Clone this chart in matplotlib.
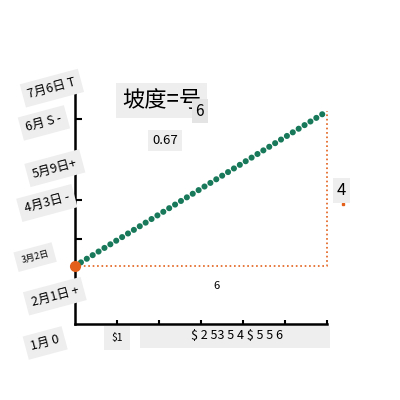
import matplotlib.pyplot as plt
from matplotlib.patches import Rectangle

plt.rcParams['font.family'] = ['Noto Sans CJK SC', 'DejaVu Sans']

# data
run_x = [0, 6]
line_y = [1.5, 5.5]
rise = 4
run = 6
slope_txt = '0.67'
ylabels = ['1月 0', '2月1日 +', '3月2日', '4月3日 -', '5月9日+', '6月 S -', '7月6日 T']
xticks = [1, 2, 3, 4, 5, 6]
xlabel_first = r'\$1'
xlabel_rest = r'\$ 2 53 5 4 \$ 5 5 6'

# label layout (data coords), the labels sit off the ticks in the reference
ylab_x = [-0.71, -0.48, -0.95, -0.67, -0.48, -0.74, -0.55]
ylab_y = [-0.49, 0.72, 1.73, 3.13, 4.03, 5.2, 6.1]

green = '#18785a'
orange = '#e2601a'
box = dict(facecolor='#eeeeee', edgecolor='none', pad=3)

fig = plt.figure(figsize=(4, 4), dpi=100)
ax = fig.add_axes([0.1875, 0.19, 0.63, 0.58])
ax.set_xlim(0, 6)
ax.set_ylim(0, 6)

# slope line as round dots
ax.plot(run_x, line_y, color=green, lw=4.4, linestyle=(0, (0.01, 1.12)),
        solid_capstyle='round', dash_capstyle='round', clip_on=False, zorder=3)

# run / rise guides
ax.plot([run_x[0], run_x[1], run_x[1]], [line_y[0], line_y[0], line_y[1]],
        color=orange, lw=1.2, linestyle=':', clip_on=False, zorder=2)
ax.plot([run_x[0]], [line_y[0]], 'o', color=orange, ms=7, clip_on=False, zorder=4)

ax.text(3.38, 0.98, str(run), ha='center', va='center', fontsize=8)
ax.text(6.35, 3.45, str(rise), ha='center', va='center', fontsize=12, bbox=box)
ax.plot([6.38], [3.1], 's', color=orange, ms=1.5, clip_on=False)

# title like label, the "6" box sits over the end of it
ax.text(1.12, 5.78, '坡度=号', fontsize=16, ha='left', va='center',
        bbox=dict(facecolor='#eeeeee', edgecolor='none', pad=4))
ax.text(2.97, 5.5, '6', fontsize=11, ha='center', va='center',
        bbox=dict(facecolor='#e4e4e4', edgecolor='none', pad=2.5))
ax.text(2.14, 4.75, slope_txt, fontsize=9.5, ha='center', va='center', bbox=box)

# spines
for s in ['top', 'right']:
    ax.spines[s].set_visible(False)
ax.spines['left'].set_linewidth(1.8)
ax.spines['bottom'].set_linewidth(1.8)

# x ticks
ax.set_xticks(xticks)
ax.set_xticklabels([])
ax.tick_params(axis='x', direction='in', length=3, width=1.5)
ax.text(1, -0.36, xlabel_first, fontsize=7.5, ha='center', va='center',
        bbox=dict(facecolor='#eeeeee', edgecolor='none', pad=5))
ax.add_patch(Rectangle((1.55, -0.62), 4.52, 0.58, facecolor='#eeeeee',
                       edgecolor='none', clip_on=False, zorder=1))
ax.text(3.86, -0.3, xlabel_rest, fontsize=9, ha='center', va='center', zorder=2)

# y labels
ax.set_yticks([2.2, 3.2, 5.3], labels=[])
ax.tick_params(axis='y', direction='in', length=5, width=1.5)
for lab, xp, yp in zip(ylabels, ylab_x, ylab_y):
    fs = 6.5 if lab == '3月2日' else 9
    ax.text(xp, yp, lab, fontsize=fs, ha='center', va='center', rotation=15,
            bbox=dict(facecolor='#eeeeee', edgecolor='none', pad=4), clip_on=False)

fig.savefig('out.png', dpi=100)
